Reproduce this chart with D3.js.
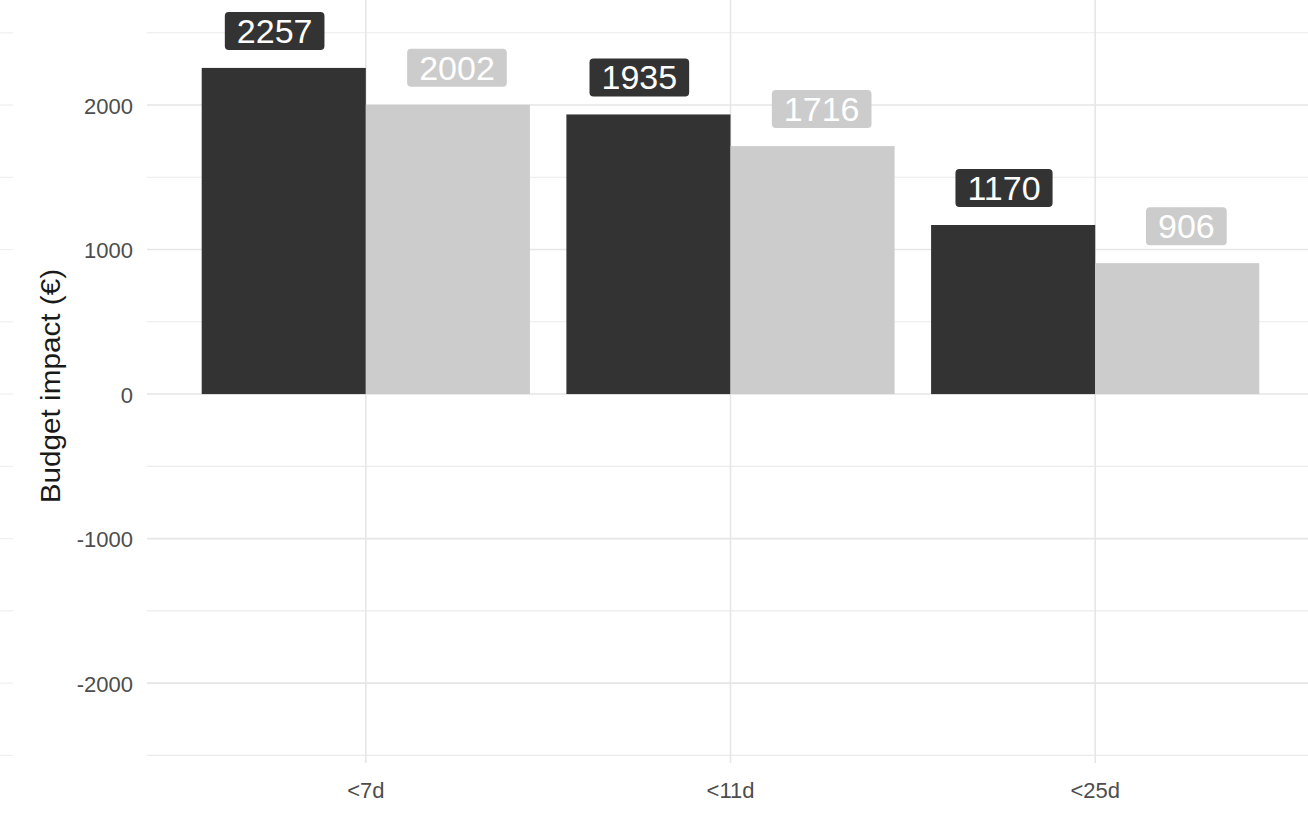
<!DOCTYPE html>
<html>
<head>
<meta charset="utf-8">
<script src="https://cdn.jsdelivr.net/npm/d3@7"></script>
<style>
  html, body { margin: 0; padding: 0; background: #ffffff; }
  svg { display: block; font-family: "Liberation Sans", Arial, sans-serif; }
</style>
</head>
<body>
<svg id="chart" width="1308" height="813"></svg>
<script>
// ---- data ----
const categories = ["<7d", "<11d", "<25d"];
const seriesNames = ["A", "B"];
const seriesDark = [2257, 1935, 1170];
const seriesLight = [2002, 1716, 906];
const yMajorTicks = [-2000, -1000, 0, 1000, 2000];
const yMinorTicks = [-2500, -1500, -500, 500, 1500, 2500];
const yTitle = "Budget impact (\u20AC)";

// ---- layout ----
const W = 1308, H = 813;
const panel = { left: 147, right: 1314, top: 0, bottom: 763 };
const svg = d3.select("#chart");

const x = d3.scalePoint().domain(categories).range([panel.left, panel.right]).padding(0.6);
const step = x.step();
const y = d3.scaleLinear().domain([-2553, 2727]).range([panel.bottom, panel.top]);

const colors = { A: "#333333", B: "#cccccc" };

// ghost gridline fragments on far left
const ghost = svg.append("g");
ghost.selectAll("line").data(yMajorTicks.concat(yMinorTicks)).join("line")
  .attr("x1", 0).attr("x2", 13)
  .attr("y1", d => y(d)).attr("y2", d => y(d))
  .attr("stroke", "#efefef").attr("stroke-width", 1.2);

// gridlines
const grid = svg.append("g");
grid.selectAll("line.minor").data(yMinorTicks).join("line").attr("class", "minor")
  .attr("x1", panel.left).attr("x2", W)
  .attr("y1", d => y(d)).attr("y2", d => y(d))
  .attr("stroke", "#ebebeb").attr("stroke-width", 1.1);
grid.selectAll("line.major").data(yMajorTicks).join("line").attr("class", "major")
  .attr("x1", panel.left).attr("x2", W)
  .attr("y1", d => y(d)).attr("y2", d => y(d))
  .attr("stroke", "#e6e6e6").attr("stroke-width", 1.6);
grid.selectAll("line.vx").data(categories).join("line").attr("class", "vx")
  .attr("x1", d => x(d)).attr("x2", d => x(d))
  .attr("y1", panel.top).attr("y2", panel.bottom)
  .attr("stroke", "#e6e6e6").attr("stroke-width", 1.6);

// bars
const rows = categories.map((c, i) => ({ c, A: seriesDark[i], B: seriesLight[i] }));
const barW = step * 0.45;
const bars = svg.append("g");
seriesNames.forEach((s, si) => {
  bars.selectAll("rect.s" + s).data(rows).join("rect").attr("class", "s" + s)
    .attr("x", d => x(d.c) - barW + si * barW)
    .attr("width", barW)
    .attr("y", d => y(Math.max(0, d[s])))
    .attr("height", d => Math.abs(y(d[s]) - y(0)))
    .attr("fill", colors[s]);
});

// labels
const labG = svg.append("g");
seriesNames.forEach((s, si) => {
  rows.forEach(d => {
    const cx = x(d.c) + (si === 0 ? -0.25 : 0.25) * step;
    const cy = y(d[s]) - 37;
    const g = labG.append("g");
    const t = g.append("text")
      .attr("x", cx).attr("y", cy)
      .attr("text-anchor", "middle").attr("dominant-baseline", "central")
      .attr("font-size", 34).attr("fill", "#ffffff")
      .text(d[s]);
    const tw = t.node().getComputedTextLength();
    g.insert("rect", "text")
      .attr("x", cx - tw / 2 - 12).attr("y", cy - 19)
      .attr("width", tw + 24).attr("height", 38)
      .attr("rx", 4).attr("ry", 4)
      .attr("fill", colors[s]);
  });
});

// y axis tick labels
svg.append("g").selectAll("text").data(yMajorTicks).join("text")
  .attr("x", 133).attr("y", d => y(d) + 1)
  .attr("text-anchor", "end").attr("dominant-baseline", "central")
  .attr("font-size", 22).attr("fill", "#4d4d4d")
  .text(d => d);

// x axis labels
svg.append("g").selectAll("text").data(categories).join("text")
  .attr("x", d => x(d)).attr("y", 790)
  .attr("text-anchor", "middle").attr("dominant-baseline", "central")
  .attr("font-size", 22).attr("fill", "#4d4d4d")
  .text(d => d);

// y title
svg.append("text")
  .attr("transform", `translate(50, ${y(0) - 8}) rotate(-90) scale(1.1, 1)`)
  .attr("text-anchor", "middle").attr("dominant-baseline", "central")
  .attr("font-size", 27).attr("fill", "#1a1a1a")
  .text(yTitle);
</script>
</body>
</html>
